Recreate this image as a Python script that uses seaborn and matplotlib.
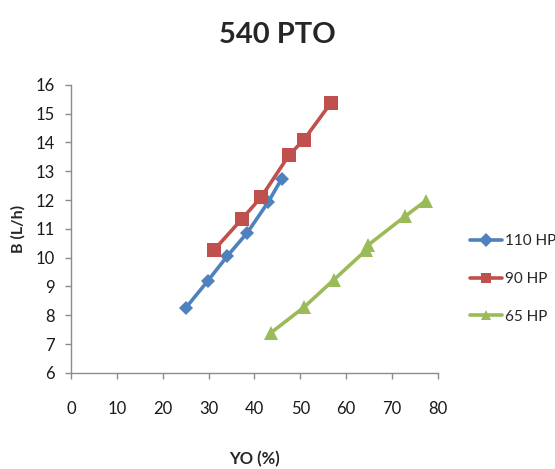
import matplotlib
matplotlib.use("Agg")
import matplotlib.pyplot as plt
import seaborn as sns
import pandas as pd

hp110_x = [25.0, 29.8, 34.1, 38.4, 43.0, 45.9]
hp110_y = [8.25, 9.19, 10.06, 10.86, 11.93, 12.73]
hp90_x = [31.2, 37.3, 41.5, 47.5, 50.8, 56.6]
hp90_y = [10.27, 11.35, 12.11, 13.55, 14.1, 15.36]
hp65_x = [43.5, 50.8, 57.3, 64.4, 64.8, 72.8, 77.3]
hp65_y = [7.38, 8.28, 9.23, 10.27, 10.44, 11.43, 11.97]
series_names = ["110 HP", "90 HP", "65 HP"]
x_ticks = [0, 10, 20, 30, 40, 50, 60, 70, 80]
y_ticks = [6, 7, 8, 9, 10, 11, 12, 13, 14, 15, 16]
title = "540 PTO"
x_label = "YO (%)"
y_label = "B (L/h)"

rows = []
for name, xs, ys in zip(series_names, [hp110_x, hp90_x, hp65_x], [hp110_y, hp90_y, hp65_y]):
    for x, y in zip(xs, ys):
        rows.append({"YO": x, "B": y, "series": name})
df = pd.DataFrame(rows)

sns.set_theme(style="white")
plt.rcParams["font.family"] = ["Lato", "DejaVu Sans"]
fs = 12

fig = plt.figure(figsize=(5.55, 4.69), dpi=100)
ax = fig.add_axes([0.128, 0.205, 0.661, 0.614])

palette = {"110 HP": "#4F81BD", "90 HP": "#C0504D", "65 HP": "#9BBB59"}
markers = {"110 HP": "D", "90 HP": "s", "65 HP": "^"}
sizes = {"110 HP": 7, "90 HP": 9.5, "65 HP": 10}
for name in series_names:
    sub = df[df.series == name]
    sns.lineplot(data=sub, x="YO", y="B", sort=False, estimator=None, ax=ax,
                 color=palette[name], marker=markers[name], markersize=sizes[name],
                 markeredgewidth=0, linewidth=2.6, label=name)

ax.set_xlim(0, 80)
ax.set_ylim(6, 16)
ax.set_xticks(x_ticks)
ax.set_yticks(y_ticks)
for s in ["top", "right"]:
    ax.spines[s].set_visible(False)
for s in ["left", "bottom"]:
    ax.spines[s].set_color("#8C8C8C")
    ax.spines[s].set_linewidth(1)
ax.tick_params(axis="both", which="major", direction="out", length=4.5, width=1,
               color="#8C8C8C", labelsize=fs, labelcolor="#1A1A1A",
               bottom=True, left=True)
ax.tick_params(axis="x", pad=16)
ax.tick_params(axis="y", pad=7)
ax.set_xlabel(x_label, fontsize=fs, fontweight="bold", va="center")
ax.set_ylabel(y_label, fontsize=fs - 0.5, fontweight="bold", va="center", ha="center")
ax.xaxis.set_label_coords(0.5, -0.298)
ax.yaxis.set_label_coords(-0.144, 0.5)
fig.text(0.5, 0.925, title, ha="center", va="center", fontsize=21, fontweight="bold")

leg = ax.legend(loc="center left", bbox_to_anchor=(470 / 555, 1 - 279 / 469),
                bbox_transform=fig.transFigure, frameon=False,
                fontsize=11, labelspacing=1.55, handlelength=2.1, handletextpad=0.2,
                borderpad=0, borderaxespad=0)
for line in leg.get_lines():
    line.set_markersize(7)
fig.savefig("out.png", dpi=100)
